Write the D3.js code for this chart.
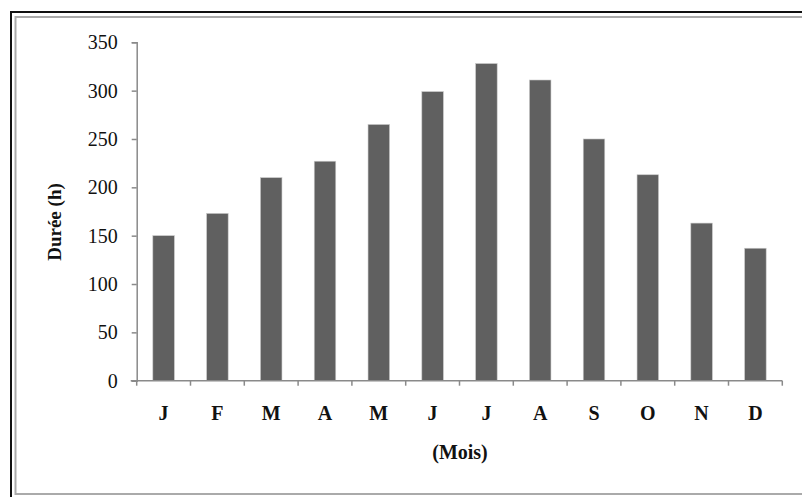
<!DOCTYPE html>
<html><head><meta charset="utf-8">
<script src="https://cdn.jsdelivr.net/npm/d3@7"></script>
<style>
html,body{margin:0;padding:0;background:#fff;}
svg{display:block;}
text{font-family:"Liberation Serif","Times New Roman",serif;fill:#111;}
</style></head>
<body>
<svg id="chart" width="802" height="497"></svg>
<script>
const months = ["J","F","M","A","M","J","J","A","S","O","N","D"];
const durations = [150, 173, 210, 227, 265, 299, 328, 311, 250, 213, 163, 137];
const yTicks = [0, 50, 100, 150, 200, 250, 300, 350];
const yLabel = "Durée (h)";
const xLabel = "(Mois)";

const svg = d3.select("#chart");

// frame
svg.append("rect").attr("x",11).attr("y",12).attr("width",820).attr("height",520)
  .attr("fill","none").attr("stroke","#111").attr("stroke-width",2);
svg.append("rect").attr("x",15.5).attr("y",17).attr("width",820).attr("height",477)
  .attr("fill","none").attr("stroke","#aaa").attr("stroke-width",2);

const x0 = 136.7, x1 = 782.3, yBottom = 380.7, yTop = 42.3;
const x = d3.scaleBand().domain(d3.range(months.length)).range([x0, x1])
  .paddingInner(0.6).paddingOuter(0.3);
const y = d3.scaleLinear().domain([0, 350]).range([yBottom, yTop]);

// bars
svg.append("g").selectAll("rect").data(durations).join("rect")
  .attr("x",(d,i)=>x(i)).attr("width",x.bandwidth())
  .attr("y",d=>y(d)).attr("height",d=>y(0)-y(d))
  .attr("fill","#606060").attr("stroke","#c8c8c8").attr("stroke-width",0.6);

// y axis
const yAxis = svg.append("g").attr("transform",`translate(${x0},0)`)
  .call(d3.axisLeft(y).tickValues(yTicks).tickSize(5).tickPadding(14).tickFormat(d3.format("d")));
yAxis.select(".domain").attr("stroke","#8a8a8a").attr("stroke-width",1.5);
yAxis.selectAll(".tick line").attr("stroke","#8a8a8a").attr("stroke-width",1.5);
yAxis.selectAll(".tick text").attr("font-size",20).attr("font-family","Liberation Serif").attr("fill","#111");

// x axis with boundary ticks
const bounds = d3.range(months.length + 1).map(i => x0 + i * x.step() - 0);
const xg = svg.append("g");
xg.append("line").attr("x1",x0-6).attr("x2",x1).attr("y1",yBottom).attr("y2",yBottom)
  .attr("stroke","#8a8a8a").attr("stroke-width",1.5);
xg.selectAll("line.tk").data(d3.range(months.length+1)).join("line").attr("class","tk")
  .attr("x1",i=>x0 + i*x.step()).attr("x2",i=>x0 + i*x.step())
  .attr("y1",yBottom).attr("y2",yBottom+5)
  .attr("stroke","#8a8a8a").attr("stroke-width",1.5);
xg.selectAll("text").data(months).join("text")
  .attr("x",(d,i)=>x(i)+x.bandwidth()/2).attr("y",420)
  .attr("text-anchor","middle").attr("font-size",20).attr("font-weight","bold")
  .text(d=>d);

// axis titles
svg.append("text").attr("transform","translate(61,222) rotate(-90)")
  .attr("text-anchor","middle").attr("font-size",19).attr("font-weight","bold").text(yLabel);
svg.append("text").attr("x",460).attr("y",459).attr("text-anchor","middle")
  .attr("font-size",20).attr("font-weight","bold").text(xLabel);
</script>
</body></html>
